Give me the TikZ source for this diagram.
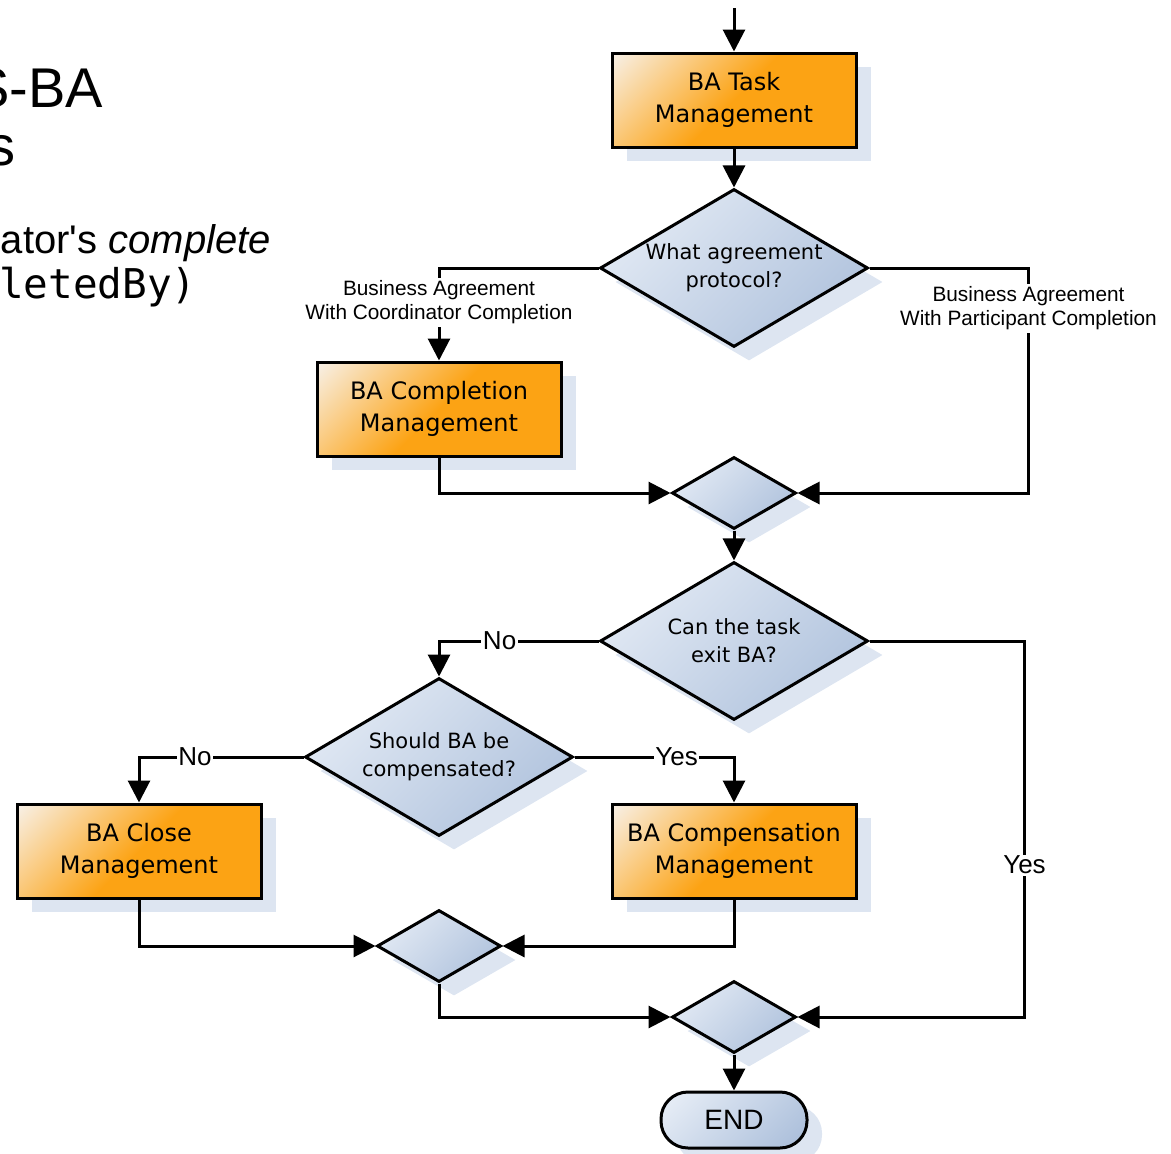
\documentclass[tikz,border=0pt]{standalone}
\usepackage{fontspec}
\setmainfont{Liberation Sans}
\newfontfamily\slidefont{Liberation Sans}
\newfontfamily\flowfont{DejaVu Sans}
\newfontfamily\codefont{DejaVu Sans Mono}
\usetikzlibrary{arrows.meta,shapes.geometric,shadows}

\definecolor{boxorange}{HTML}{FCA314}
\definecolor{boxlight}{HTML}{F8F0E6}
\definecolor{qlight}{HTML}{E4EBF5}
\definecolor{qdark}{HTML}{AEC1DC}
\definecolor{shadowblue}{HTML}{DDE5F1}

% diagonal fills: light in the upper-left corner
\pgfdeclareverticalshading{procshade}{100bp}{color(0bp)=(boxorange); color(50bp)=(boxorange); color(85bp)=(boxlight); color(100bp)=(boxlight)}
\pgfdeclareverticalshading{qshade}{100bp}{color(0bp)=(qdark); color(22bp)=(qdark); color(78bp)=(qlight); color(100bp)=(qlight)}

\tikzset{
  softshadow/.style={drop shadow={shadow xshift=15pt, shadow yshift=-14pt, fill=shadowblue, opacity=1}},
  proc/.style={draw, line width=3pt, rectangle, minimum width=244pt, minimum height=94pt,
    inner sep=0pt, shade, shading=procshade, shading angle=45, softshadow,
    font=\flowfont\fontsize{24}{32}\selectfont, align=center},
  decision/.style={draw, line width=3pt, diamond, minimum width=268pt, minimum height=158pt,
    inner sep=0pt, shade, shading=qshade, shading angle=45, softshadow},
  merge/.style={decision, minimum width=124pt, minimum height=72pt},
  terminal/.style={draw, line width=3pt, rectangle, rounded corners=27pt, minimum width=146pt,
    minimum height=56pt, inner sep=0pt, shade, shading=qshade, shading angle=45, softshadow,
    font=\fontsize{28}{30}\selectfont},
  qtext/.style={font=\flowfont\fontsize{21}{28}\selectfont, align=center, inner sep=0pt},
  branchlabel/.style={fill=white, inner sep=3pt, font=\fontsize{20.8}{24}\selectfont, align=center},
  answer/.style={fill=white, inner sep=1.5pt, font=\fontsize{26}{28}\selectfont},
  conn/.style={line width=3pt, -{Triangle[length=22pt,width=22pt]}},
}

\begin{document}
\begin{tikzpicture}[x=1pt,y=-1pt]
\useasboundingbox (0,0) rectangle (1171,1154);

% slide text at the left edge
\node[anchor=base east, inner sep=0pt, font=\slidefont\fontsize{56}{60}\selectfont] (title1) at (103,107) {S-BA};
\node[anchor=base east, inner sep=0pt, font=\slidefont\fontsize{56}{60}\selectfont] (title2) at (16,165) {s};
\node[anchor=base east, inner sep=0pt, font=\slidefont\fontsize{40}{42}\selectfont] (body1) at (271,253) {ator's \textit{complete}};
\node[anchor=base west, inner sep=0pt, font=\codefont\fontsize{41}{44}\selectfont] (body2) at (-1,298) {letedBy)};

% process boxes
\node[proc] (task) at (734,100) {BA Task\\Management};
\node[proc] (completion) at (439,409) {BA Completion\\Management};
\node[proc] (close) at (139,851) {BA Close\\Management};
\node[proc] (compensation) at (734,851) {BA Compensation\\Management};

% decisions
\node[decision] (protocol) at (734,268) {};
\node[qtext] at (protocol) {What agreement\\protocol?};
\node[decision] (canexit) at (734,641) {};
\node[qtext] at (canexit) {Can the task\\exit BA?};
\node[decision] (compensate) at (439,757) {};
\node[qtext] at (compensate) {Should BA be\\compensated?};

% merge points
\node[merge] (mergeA) at (734,493) {};
\node[merge] (mergeB) at (439,946) {};
\node[merge] (mergeC) at (734,1017) {};

% end
\node[terminal] (finish) at (734,1120) {END};

% connectors
\coordinate (entry) at (734,8);
\draw[conn] (entry) -- (task);
\draw[conn] (task) -- (protocol);
\draw[conn] (protocol.west) -| node[branchlabel, pos=0.685] {Business Agreement\\With Coordinator Completion} (completion.north);
\draw[conn] (protocol.east) -- ++(159,0) |- node[branchlabel, pos=0.09] {Business Agreement\\With Participant Completion} (mergeA.east);
\draw[conn] (completion.south) |- (mergeA.west);
\draw[conn] (mergeA) -- (canexit);
\draw[conn] (canexit.west) -| node[answer, pos=0.31] {No} (compensate.north);
\draw[conn] (canexit.east) -- ++(155,0) |- node[answer, pos=0.298] {Yes} (mergeC.east);
\draw[conn] (compensate.west) -| node[answer, pos=0.33] {No} (close.north);
\draw[conn] (compensate.east) -| node[answer, pos=0.32] {Yes} (compensation.north);
\draw[conn] (close.south) |- (mergeB.west);
\draw[conn] (compensation.south) |- (mergeB.east);
\draw[conn] (mergeB.south) |- (mergeC.west);
\draw[conn] (mergeC) -- (finish);
\end{tikzpicture}
\end{document}
